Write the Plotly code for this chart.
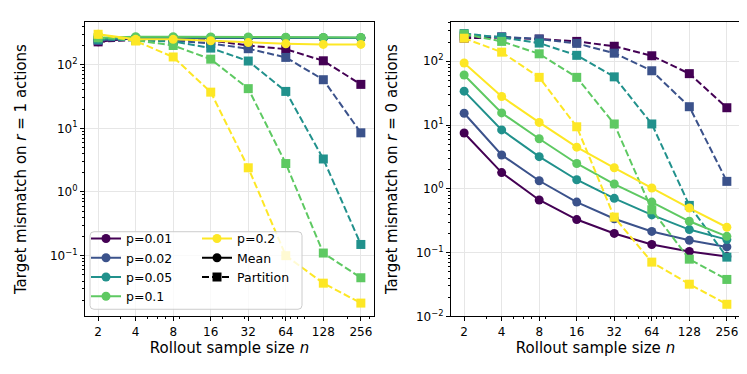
"""
Target mismatch vs rollout sample size, Mean vs Partition estimators
"""

import plotly.graph_objects as go
from plotly.subplots import make_subplots

n_values = [2, 4, 8, 16, 32, 64, 128, 256]
p_labels = ["p=0.01", "p=0.02", "p=0.05", "p=0.1", "p=0.2"]
p_colors = ["#440154", "#3b528b", "#21918c", "#5ec962", "#fde725"]

# r = 1 actions
mean_r1_p001 = [228, 262, 263, 263, 263, 263, 262, 262]
mean_r1_p002 = [240, 264, 264, 264, 264, 264, 263, 263]
mean_r1_p005 = [250, 268, 268, 267, 267, 266, 265, 265]
mean_r1_p01 = [265, 275, 274, 273, 272, 270, 268, 268]
mean_r1_p02 = [300, 250, 250, 237, 222, 213, 208, 208]

part_r1_p001 = [228, 245, 245, 240, 200, 175, 115, 49]
part_r1_p002 = [240, 245, 240, 215, 178, 130, 58, 8.5]
part_r1_p005 = [250, 242, 232, 182, 114, 38, 3.3, 0.15]
part_r1_p01 = [265, 242, 200, 122, 42, 2.8, 0.11, 0.045]
part_r1_p02 = [300, 235, 132, 37, 2.4, 0.10, 0.037, 0.018]

# r = 0 actions
mean_r0_p001 = [7.5, 1.8, 0.67, 0.33, 0.20, 0.134, 0.104, 0.087]
mean_r0_p002 = [15.3, 3.4, 1.34, 0.62, 0.34, 0.215, 0.156, 0.123]
mean_r0_p005 = [34, 8.4, 3.2, 1.39, 0.71, 0.39, 0.23, 0.16]
mean_r0_p01 = [61, 15.5, 6.1, 2.5, 1.19, 0.62, 0.31, 0.18]
mean_r0_p02 = [94, 28, 11, 4.5, 2.14, 1.03, 0.50, 0.25]

part_r0_p001 = [230, 236, 223, 205, 172, 122, 64, 18.7]
part_r0_p002 = [250, 243, 223, 191, 134, 71, 19.4, 1.31]
part_r0_p005 = [272, 236, 193, 124, 57, 10.4, 0.55, 0.085]
part_r0_p01 = [266, 205, 131, 56, 10.4, 0.47, 0.079, 0.038]
part_r0_p02 = [230, 139, 56, 9.4, 0.36, 0.071, 0.032, 0.0155]

mean_r1 = [mean_r1_p001, mean_r1_p002, mean_r1_p005, mean_r1_p01, mean_r1_p02]
part_r1 = [part_r1_p001, part_r1_p002, part_r1_p005, part_r1_p01, part_r1_p02]
mean_r0 = [mean_r0_p001, mean_r0_p002, mean_r0_p005, mean_r0_p01, mean_r0_p02]
part_r0 = [part_r0_p001, part_r0_p002, part_r0_p005, part_r0_p01, part_r0_p02]

W, H = 747, 374
FONT = "DejaVu Sans"
DASH = "7px,3px"

fig = make_subplots(rows=1, cols=2)

for col, (means, parts) in enumerate([(mean_r1, part_r1), (mean_r0, part_r0)], start=1):
    for label, color, m, pt in zip(p_labels, p_colors, means, parts):
        fig.add_trace(
            go.Scatter(
                x=n_values, y=m, mode="lines+markers", showlegend=False,
                line=dict(color=color, width=2),
                marker=dict(symbol="circle", size=9, color=color),
                cliponaxis=False,
            ),
            row=1, col=col,
        )
        fig.add_trace(
            go.Scatter(
                x=n_values, y=pt, mode="lines+markers", showlegend=False,
                line=dict(color=color, width=2, dash=DASH),
                marker=dict(symbol="square", size=9, color=color),
                cliponaxis=False,
            ),
            row=1, col=col,
        )

# legend-only entries, split over two columns
for i, (label, color) in enumerate(zip(p_labels, p_colors)):
    fig.add_trace(
        go.Scatter(
            x=[None], y=[None], mode="lines+markers", name=label,
            line=dict(color=color, width=2),
            marker=dict(symbol="circle", size=9, color=color),
            legend="legend" if i < 4 else "legend2",
        )
    )
fig.add_trace(
    go.Scatter(
        x=[None], y=[None], mode="lines+markers", name="Mean",
        line=dict(color="black", width=2),
        marker=dict(symbol="circle", size=9, color="black"),
        legend="legend2",
    )
)
fig.add_trace(
    go.Scatter(
        x=[None], y=[None], mode="lines+markers", name="Partition",
        line=dict(color="black", width=2, dash=DASH),
        marker=dict(symbol="square", size=9, color="black"),
        legend="legend2",
    )
)

x_minor = [3, 5, 6, 7, 9, 20, 30, 40, 50, 60, 70, 80, 90, 200, 300]
y_minor = [s * 10.0 ** k for k in range(-3, 3) for s in range(2, 10)]


def y_ticks(exps):
    vals = [10.0 ** e for e in exps]
    text = ["10<sup>%s</sup>" % (str(e) if e >= 0 else "\u2212" + str(-e)) for e in exps]
    return vals, text


axis_common = dict(
    showline=True, linecolor="black", linewidth=1, mirror=True,
    ticks="outside", ticklen=4, tickwidth=1, tickcolor="black",
    showgrid=True, gridcolor="#e6e6e6", gridwidth=1, zeroline=False,
    tickfont=dict(family=FONT, size=12, color="black"),
)

x_dom = [[77 / W, 366 / W], [443 / W, 732 / W]]
for i in range(2):
    fig.update_xaxes(
        type="log", range=[0.1957, 2.5137], domain=x_dom[i],
        tickvals=n_values, ticktext=[str(v) for v in n_values],
        minor=dict(tickvals=x_minor, ticks="outside", ticklen=2, tickcolor="black", showgrid=False),
        title=dict(text="Rollout sample size <i>n</i>", font=dict(family=FONT, size=15, color="black"), standoff=4),
        row=1, col=i + 1, **axis_common,
    )

yv1, yt1 = y_ticks([-1, 0, 1, 2])
yv2, yt2 = y_ticks([-2, -1, 0, 1, 2])
y_dom = [1 - 314.3 / H, 1 - 14 / H]
fig.update_yaxes(
    type="log", range=[-1.954, 2.674], domain=y_dom, tickvals=yv1, ticktext=yt1,
    minor=dict(tickvals=y_minor, ticks="outside", ticklen=2, tickcolor="black", showgrid=False),
    title=dict(text="Target mismatch on <i>r</i> = 1 actions", font=dict(family=FONT, size=15, color="black"), standoff=19),
    row=1, col=1, **axis_common,
)
fig.update_yaxes(
    type="log", range=[-2.0, 2.62], domain=y_dom, tickvals=yv2, ticktext=yt2,
    minor=dict(tickvals=y_minor, ticks="outside", ticklen=2, tickcolor="black", showgrid=False),
    title=dict(text="Target mismatch on <i>r</i> = 0 actions", font=dict(family=FONT, size=15, color="black"), standoff=14),
    row=1, col=2, **axis_common,
)

# legend frame (matplotlib style, semi-transparent white)
fx0, fx1 = 82 / W, 294 / W
fy0, fy1 = 1 - 307 / H, 1 - 228 / H
rx, ry = 4 / W, 4 / H
frame_path = (
    f"M {fx0 + rx},{fy1} L {fx1 - rx},{fy1} Q {fx1},{fy1} {fx1},{fy1 - ry} "
    f"L {fx1},{fy0 + ry} Q {fx1},{fy0} {fx1 - rx},{fy0} "
    f"L {fx0 + rx},{fy0} Q {fx0},{fy0} {fx0},{fy0 + ry} "
    f"L {fx0},{fy1 - ry} Q {fx0},{fy1} {fx0 + rx},{fy1} Z"
)
fig.add_shape(
    type="path", path=frame_path, xref="paper", yref="paper", layer="above",
    fillcolor="rgba(255,255,255,0.8)", line=dict(color="#cccccc", width=1),
)

legend_common = dict(
    xanchor="left", yanchor="top", bgcolor="rgba(0,0,0,0)", borderwidth=0,
    font=dict(family=FONT, size=12.5, color="black"), tracegroupgap=0,
    itemsizing="trace", itemwidth=30,
)

fig.update_layout(
    width=W, height=H,
    margin=dict(l=0, r=0, t=0, b=0),
    paper_bgcolor="white", plot_bgcolor="white",
    font=dict(family=FONT, color="black"),
    legend=dict(x=78 / W, y=1 - 220 / H, **legend_common),
    legend2=dict(x=189 / W, y=1 - 220 / H, **legend_common),
)

fig.write_html("out.html")
